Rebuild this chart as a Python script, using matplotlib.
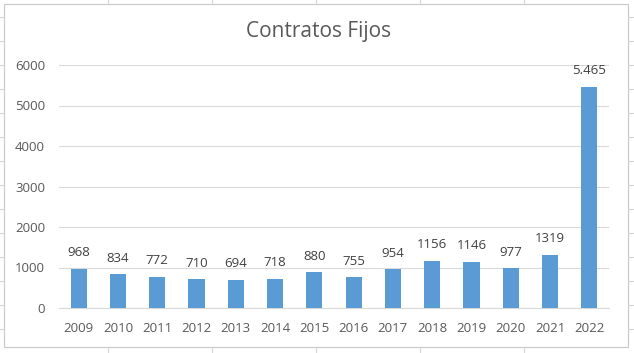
import matplotlib.pyplot as plt
from matplotlib.lines import Line2D
from matplotlib.patches import Rectangle

plt.rcParams['font.family'] = ['Open Sans', 'DejaVu Sans']

years = ['2009', '2010', '2011', '2012', '2013', '2014', '2015',
         '2016', '2017', '2018', '2019', '2020', '2021', '2022']
contratos = [968, 834, 772, 710, 694, 718, 880, 755, 954, 1156, 1146, 977, 1319, 5465]
labels = ['968', '834', '772', '710', '694', '718', '880', '755', '954',
          '1156', '1146', '977', '1319', '5.465']
yticks = [0, 1000, 2000, 3000, 4000, 5000, 6000]

W, H = 634, 353
fig = plt.figure(figsize=(W / 100, H / 100), dpi=100)
fig.patch.set_facecolor('white')

# spreadsheet cells peeking around the chart
cell = '#d4d4d4'
for x in [108, 212, 316, 420, 524]:
    fig.add_artist(Line2D([x / W, x / W], [1 - 4 / H, 1], color=cell, lw=0.8))
    fig.add_artist(Line2D([x / W, x / W], [0, 6 / H], color=cell, lw=0.8))
for y in range(17, H, 24):
    fig.add_artist(Line2D([0, 4 / W], [1 - y / H, 1 - y / H], color=cell, lw=0.8))
    fig.add_artist(Line2D([628 / W, 1], [1 - y / H, 1 - y / H], color=cell, lw=0.8))
fig.add_artist(Rectangle((4 / W, 6 / H), 624 / W, 343 / H, fill=False,
                         edgecolor='#c8c8c8', lw=0.8))

ax = fig.add_axes([59 / W, 45 / H, 550 / W, 243 / H])
x = list(range(len(years)))
bars = ax.bar(x, contratos, width=0.41, color='#5B9BD5', zorder=3)
for b, lab in zip(bars, labels):
    ax.annotate(lab, (b.get_x() + b.get_width() / 2, b.get_height()),
                xytext=(0, 7), textcoords='offset points', ha='center', va='bottom',
                fontsize=9.5, color='#404040')

ax.set_xlim(-0.5, len(years) - 0.5)
ax.set_ylim(0, 6000)
ax.set_xticks(x)
ax.set_xticklabels(years)
ax.set_yticks(yticks)
ax.tick_params(axis='x', length=0, pad=10, labelsize=9.5, labelcolor='#595959')
ax.tick_params(axis='y', length=0, pad=10, labelsize=9.5, labelcolor='#595959')
ax.grid(axis='y', color='#d9d9d9', lw=0.8, zorder=0)
for s in ['top', 'right', 'left']:
    ax.spines[s].set_visible(False)
ax.spines['bottom'].set_color('#d9d9d9')
ax.spines['bottom'].set_linewidth(0.8)

fig.text(319 / W, 1 - 32 / H, 'Contratos Fijos', ha='center', va='center',
         fontsize=15, color='#595959')

fig.savefig('out.png', dpi=100)
